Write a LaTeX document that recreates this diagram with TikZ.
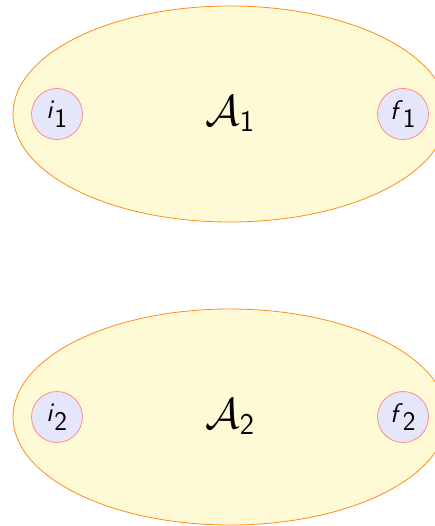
\RequirePackage{fix-cm}
\documentclass[tikz,border=0pt]{standalone}
\usetikzlibrary{shapes.geometric}
\definecolor{regfill}{HTML}{FFFAD6}
\definecolor{regdraw}{HTML}{FF8C1A}
\definecolor{stfill}{HTML}{E6E6FA}
\definecolor{stdraw}{HTML}{FF8C8C}
\tikzset{
  region/.style={ellipse, draw=regdraw, fill=regfill, line width=0.8pt,
    minimum width=434pt, minimum height=216pt, inner sep=0pt,
    font=\fontsize{43}{48}\selectfont},
  statenode/.style={circle, draw=stdraw, fill=stfill, line width=0.8pt,
    minimum size=51pt, inner sep=0pt, font=\fontsize{27}{32}\selectfont}
}
\begin{document}
\begin{tikzpicture}[x=1pt,y=-1pt]
\useasboundingbox (0,0) rectangle (434,526);
\node[region] (A1) at (230,114) {$\mathcal{A}_{\mathsf{1}}$};
\node[region] (A2) at (230,417) {$\mathcal{A}_{\mathsf{2}}$};
\node[statenode] (i1) at (57,114) {$\textsf{\textit{i}}_{\textsf{1}}$};
\node[statenode] (f1) at (403,114) {$\textsf{\textit{f}}_{\textsf{1}}$};
\node[statenode] (i2) at (57,417) {$\textsf{\textit{i}}_{\textsf{2}}$};
\node[statenode] (f2) at (403,417) {$\textsf{\textit{f}}_{\textsf{2}}$};
\end{tikzpicture}
\end{document}
